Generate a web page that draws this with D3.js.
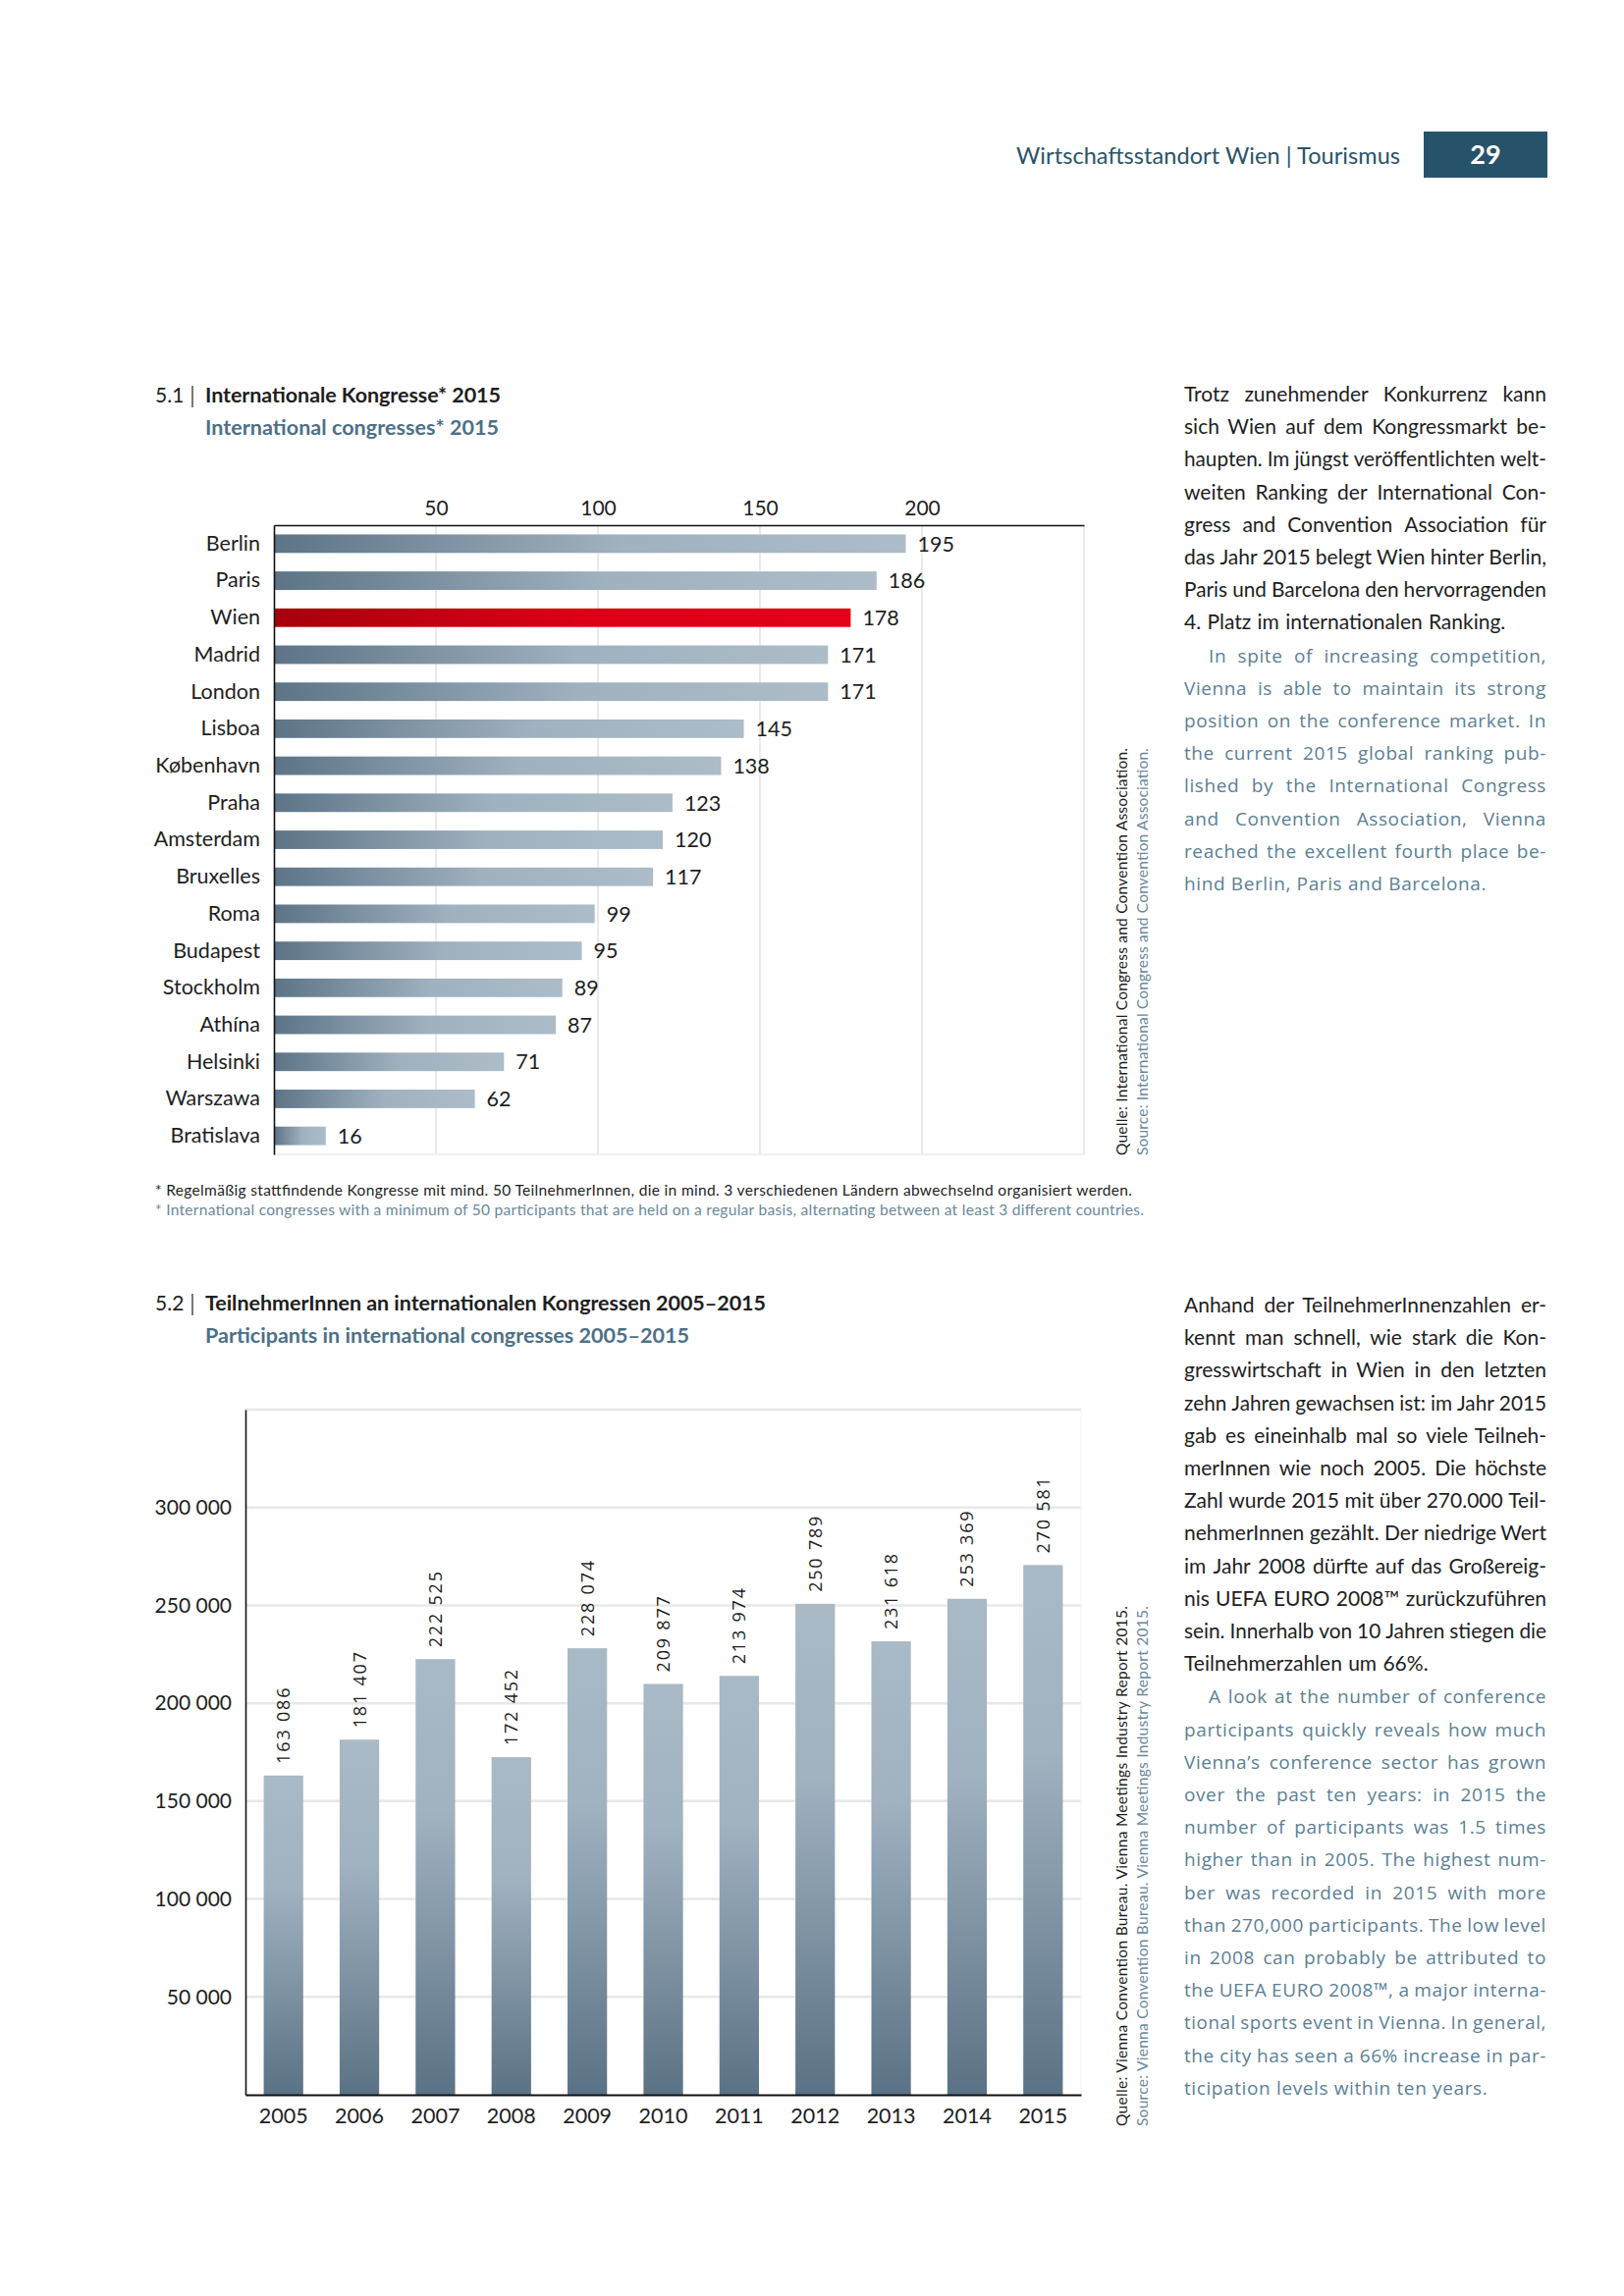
<!DOCTYPE html>
<html>
<head>
<meta charset="utf-8">
<title>Wirtschaftsstandort Wien | Tourismus</title>
<script src="https://d3js.org/d3.v7.min.js"></script>
<style>
  body { margin: 0; background: #fff; }
  svg text { font-family: Lato, "Noto Sans", sans-serif; }
</style>
</head>
<body>
<div id="page"></div>
<script>
// ---- data: chart 5.1
const cities = ["Berlin", "Paris", "Wien", "Madrid", "London", "Lisboa", "København", "Praha",
  "Amsterdam", "Bruxelles", "Roma", "Budapest", "Stockholm", "Athína", "Helsinki", "Warszawa", "Bratislava"];
const congresses = [195, 186, 178, 171, 171, 145, 138, 123, 120, 117, 99, 95, 89, 87, 71, 62, 16];
const congressTicks = [50, 100, 150, 200];

// ---- data: chart 5.2
const years = ["2005", "2006", "2007", "2008", "2009", "2010", "2011", "2012", "2013", "2014", "2015"];
const participants = [163086, 181407, 222525, 172452, 228074, 209877, 213974, 250789, 231618, 253369, 270581];
const participantTicks = [50000, 100000, 150000, 200000, 250000, 300000];

// ---- texts
const textDe1 = [
  "Trotz zunehmender Konkurrenz kann",
  "sich Wien auf dem Kongressmarkt be-",
  "haupten. Im jüngst veröffentlichten welt-",
  "weiten Ranking der International Con-",
  "gress and Convention Association für",
  "das Jahr 2015 belegt Wien hinter Berlin,",
  "Paris und Barcelona den hervorragenden",
  "4. Platz im internationalen Ranking."
];
const textEn1 = [
  "In spite of increasing competition,",
  "Vienna is able to maintain its strong",
  "position on the conference market. In",
  "the current 2015 global ranking pub-",
  "lished by the International Congress",
  "and Convention Association, Vienna",
  "reached the excellent fourth place be-",
  "hind Berlin, Paris and Barcelona."
];
const textDe2 = [
  "Anhand der TeilnehmerInnenzahlen er-",
  "kennt man schnell, wie stark die Kon-",
  "gresswirtschaft in Wien in den letzten",
  "zehn Jahren gewachsen ist: im Jahr 2015",
  "gab es eineinhalb mal so viele Teilneh-",
  "merInnen wie noch 2005. Die höchste",
  "Zahl wurde 2015 mit über 270.000 Teil-",
  "nehmerInnen gezählt. Der niedrige Wert",
  "im Jahr 2008 dürfte auf das Großereig-",
  "nis UEFA EURO 2008™ zurückzuführen",
  "sein. Innerhalb von 10 Jahren stiegen die",
  "Teilnehmerzahlen um 66%."
];
const textEn2 = [
  "A look at the number of conference",
  "participants quickly reveals how much",
  "Vienna’s conference sector has grown",
  "over the past ten years: in 2015 the",
  "number of participants was 1.5 times",
  "higher than in 2005. The highest num-",
  "ber was recorded in 2015 with more",
  "than 270,000 participants. The low level",
  "in 2008 can probably be attributed to",
  "the UEFA EURO 2008™, a major interna-",
  "tional sports event in Vienna. In general,",
  "the city has seen a 66% increase in par-",
  "ticipation levels within ten years."
];

const W = 1654, H = 2339;
const dark = "#1e1e1e", slate = "#4d7086", blueText = "#5b7f95", srcBlue = "#6a889c";

let svg = d3.select("#page").append("svg")
  .attr("width", W).attr("height", H);

let defs = svg.append("defs");
function hGrad(id, c0, c1, c2) {
  let g = defs.append("linearGradient").attr("id", id)
    .attr("x1", "0").attr("y1", "0").attr("x2", "1").attr("y2", "0");
  g.append("stop").attr("offset", "0").attr("stop-color", c0);
  g.append("stop").attr("offset", "0.55").attr("stop-color", c1);
  g.append("stop").attr("offset", "1").attr("stop-color", c2);
}
hGrad("barGrey", "#5c7487", "#a0b1bf", "#acbcc8");
hGrad("barRed", "#a6000c", "#dc0016", "#e4001b");
let vg = defs.append("linearGradient").attr("id", "colGrey")
  .attr("x1", "0").attr("y1", "0").attr("x2", "0").attr("y2", "1");
vg.append("stop").attr("offset", "0").attr("stop-color", "#a9b9c6");
vg.append("stop").attr("offset", "0.35").attr("stop-color", "#a1b2c0");
vg.append("stop").attr("offset", "1").attr("stop-color", "#5a7285");

// ---- page header
svg.append("text")
  .attr("x", 1035).attr("y", 167)
  .attr("font-size", "23.5px").attr("fill", "#2b5468")
  .attr("textLength", 391)
  .text("Wirtschaftsstandort Wien | Tourismus");
svg.append("rect").attr("x", 1450).attr("y", 134).attr("width", 126).attr("height", 47)
  .attr("fill", "#27536a");
svg.append("text").attr("x", 1513).attr("y", 167)
  .attr("text-anchor", "middle").attr("font-size", "27px").attr("font-weight", "bold")
  .attr("fill", "#fff").text("29");

// ---- chart titles
function title(num, de, en, y, deLen, enLen) {
  svg.append("text").attr("x", 158).attr("y", y).attr("font-size", "21px").attr("fill", dark).text(num);
  svg.append("line").attr("x1", 196).attr("x2", 196).attr("y1", y - 17).attr("y2", y + 5)
    .attr("stroke", dark).attr("stroke-width", 1.2);
  svg.append("text").attr("x", 209).attr("y", y).attr("font-size", "21.5px")
    .attr("font-weight", "bold").attr("fill", dark).attr("textLength", deLen).text(de);
  svg.append("text").attr("x", 209).attr("y", y + 33).attr("font-size", "21.5px")
    .attr("font-weight", "bold").attr("fill", slate).attr("textLength", enLen).text(en);
}
title("5.1", "Internationale Kongresse* 2015", "International congresses* 2015", 410, 301, 299);
title("5.2", "TeilnehmerInnen an internationalen Kongressen 2005–2015",
  "Participants in international congresses 2005–2015", 1335, 571, 493);

// ---- justified side text
function paragraph(lines, x, y, width, lh, indent, opts) {
  lines.forEach(function(line, i) {
    let t = svg.append("text").attr("y", y + i * lh)
      .attr("font-size", opts.size).attr("fill", opts.color)
      .attr("letter-spacing", opts.spacing)
      .style("font-family", opts.family);
    let words = line.split(" ");
    let spans = words.map(w => t.append("tspan").text(w));
    let x0 = x + (i === 0 ? indent : 0);
    let avail = x + width - x0;
    let widths = spans.map(s => s.node().getComputedTextLength());
    let total = d3.sum(widths);
    let last = i === lines.length - 1;
    let minGap = opts.size * 0.24;
    let gap = opts.size * 0.3;
    if (!last && words.length > 1) {
      gap = (avail - total) / (words.length - 1);
      if (gap < minGap) {
        // squeeze the words a little, as the typesetter did
        let k = (avail - minGap * (words.length - 1)) / total;
        widths = widths.map(w => w * k);
        spans.forEach((s, j) => s.attr("textLength", widths[j]).attr("lengthAdjust", "spacingAndGlyphs"));
        gap = minGap;
      }
    }
    let cx = x0;
    spans.forEach(function(s, k) {
      s.attr("x", cx);
      cx += widths[k] + gap;
    });
  });
}
const colX = 1206, colW = 369, lh = 33.2;
const deFont = { size: 21, color: dark, spacing: "0px", family: "Lato, sans-serif" };
const enFont = { size: 19, color: blueText, spacing: "0.6px", family: "'Open Sans', sans-serif" };
paragraph(textDe1, colX, 409, colW, lh, 0, deFont);
paragraph(textEn1, colX, 409 + lh * textDe1.length, colW, lh, 25, enFont);
paragraph(textDe2, colX, 1337, colW, lh, 0, deFont);
paragraph(textEn2, colX, 1337 + lh * textDe2.length, colW, lh, 25, enFont);

// ---- chart 5.1: horizontal bars
let x1 = d3.scaleLinear().domain([0, 250]).range([279, 1104]);
let y1 = d3.scaleBand().domain(cities).range([535, 1176]).paddingInner(0.5).paddingOuter(0.25);

let c1 = svg.append("g");
c1.selectAll(".grid").data(congressTicks.concat([250])).enter().append("line")
  .attr("x1", d => x1(d)).attr("x2", d => x1(d))
  .attr("y1", 535).attr("y2", 1176)
  .attr("stroke", "#e3e3e3").attr("stroke-width", 1.5);
c1.append("line").attr("x1", x1(0)).attr("x2", x1(250)).attr("y1", 1176).attr("y2", 1176)
  .attr("stroke", "#ececec").attr("stroke-width", 1.5);

c1.selectAll(".bar").data(cities).enter().append("rect")
  .attr("x", x1(0))
  .attr("y", d => y1(d))
  .attr("width", (d, i) => x1(congresses[i]) - x1(0))
  .attr("height", y1.bandwidth())
  .attr("fill", d => d === "Wien" ? "url(#barRed)" : "url(#barGrey)");

c1.selectAll(".val").data(cities).enter().append("text")
  .attr("x", (d, i) => x1(congresses[i]) + 12)
  .attr("y", d => y1(d) + y1.bandwidth() / 2)
  .attr("dy", "0.36em")
  .attr("font-size", "21.5px").attr("fill", dark)
  .text((d, i) => congresses[i]);

let xAxis1 = d3.axisTop(x1).tickValues(congressTicks).tickSize(0).tickSizeOuter(0).tickPadding(10);
let gx1 = c1.append("g").attr("transform", "translate(0,535)").call(xAxis1);
gx1.select(".domain").attr("stroke", "#111").attr("stroke-width", 1.6);
gx1.selectAll("text").attr("font-size", "21px").attr("fill", dark).style("font-family", "Lato, sans-serif");

let yAxis1 = d3.axisLeft(y1).tickSize(0).tickSizeOuter(0).tickPadding(14);
let gy1 = c1.append("g").attr("transform", "translate(279,0)").call(yAxis1);
gy1.select(".domain").attr("stroke", "#111").attr("stroke-width", 1.6);
gy1.selectAll("text").attr("font-size", "21.5px").attr("fill", dark).style("font-family", "Lato, sans-serif");

// footnote
svg.append("text").attr("x", 158).attr("y", 1218).attr("font-size", "15.5px").attr("fill", dark)
  .attr("textLength", 995)
  .text("* Regelmäßig stattfindende Kongresse mit mind. 50 TeilnehmerInnen, die in mind. 3 verschiedenen Ländern abwechselnd organisiert werden.");
svg.append("text").attr("x", 158).attr("y", 1238).attr("font-size", "15.5px").attr("fill", srcBlue)
  .attr("textLength", 1007)
  .text("* International congresses with a minimum of 50 participants that are held on a regular basis, alternating between at least 3 different countries.");

// sources (rotated)
function source(de, en, bottom, len) {
  svg.append("text").attr("transform", "translate(1148," + bottom + ") rotate(-90)")
    .attr("font-size", "15.5px").attr("fill", dark).attr("textLength", len).text(de);
  svg.append("text").attr("transform", "translate(1169," + bottom + ") rotate(-90)")
    .attr("font-size", "15.5px").attr("fill", srcBlue).attr("textLength", len).text(en);
}
source("Quelle: International Congress and Convention Association.",
  "Source: International Congress and Convention Association.", 1177, 415);
source("Quelle: Vienna Convention Bureau. Vienna Meetings Industry Report 2015.",
  "Source: Vienna Convention Bureau. Vienna Meetings Industry Report 2015.", 2166, 530);

// ---- chart 5.2: columns
let x2 = d3.scaleBand().domain(years).range([250, 1101]).paddingInner(0.48).paddingOuter(0.24);
let y2 = d3.scaleLinear().domain([0, 350000]).range([2134, 1436]);

let c2 = svg.append("g");
c2.selectAll(".grid").data(participantTicks.concat([350000])).enter().append("line")
  .attr("x1", 250).attr("x2", 1101)
  .attr("y1", d => y2(d)).attr("y2", d => y2(d))
  .attr("stroke", "#e8e8e8").attr("stroke-width", 2.5);
c2.append("line").attr("x1", 1101).attr("x2", 1101).attr("y1", 1436).attr("y2", 2134)
  .attr("stroke", "#f2f2f2").attr("stroke-width", 1);

c2.selectAll(".col").data(years).enter().append("rect")
  .attr("x", d => x2(d))
  .attr("y", (d, i) => y2(participants[i]))
  .attr("width", x2.bandwidth())
  .attr("height", (d, i) => y2(0) - y2(participants[i]))
  .attr("fill", "url(#colGrey)");

const fmt = d => d3.format(",")(d).replace(/,/g, " ");
c2.selectAll(".val").data(years).enter().append("text")
  .attr("transform", (d, i) => "translate(" + (x2(d) + x2.bandwidth() / 2) + "," + (y2(participants[i]) - 12) + ") rotate(-90)")
  .attr("dy", "0.36em")
  .attr("font-size", "18px").attr("letter-spacing", "1.8px").attr("fill", dark)
  .style("font-family", "'Open Sans', sans-serif")
  .text((d, i) => fmt(participants[i]));

let yAxis2 = d3.axisLeft(y2).tickValues(participantTicks).tickFormat(fmt)
  .tickSize(0).tickSizeOuter(0).tickPadding(14);
let gy2 = c2.append("g").attr("transform", "translate(250,0)").call(yAxis2);
gy2.select(".domain").attr("stroke", "#111").attr("stroke-width", 1.6);
gy2.selectAll("text").attr("font-size", "21px").attr("fill", dark).style("font-family", "Lato, sans-serif");

let xAxis2 = d3.axisBottom(x2).tickSize(0).tickSizeOuter(0).tickPadding(14);
let gx2 = c2.append("g").attr("transform", "translate(0,2134)").call(xAxis2);
gx2.select(".domain").attr("stroke", "#111").attr("stroke-width", 2);
gx2.selectAll("text").attr("font-size", "21.5px").attr("fill", dark).style("font-family", "Lato, sans-serif");
</script>
</body>
</html>
